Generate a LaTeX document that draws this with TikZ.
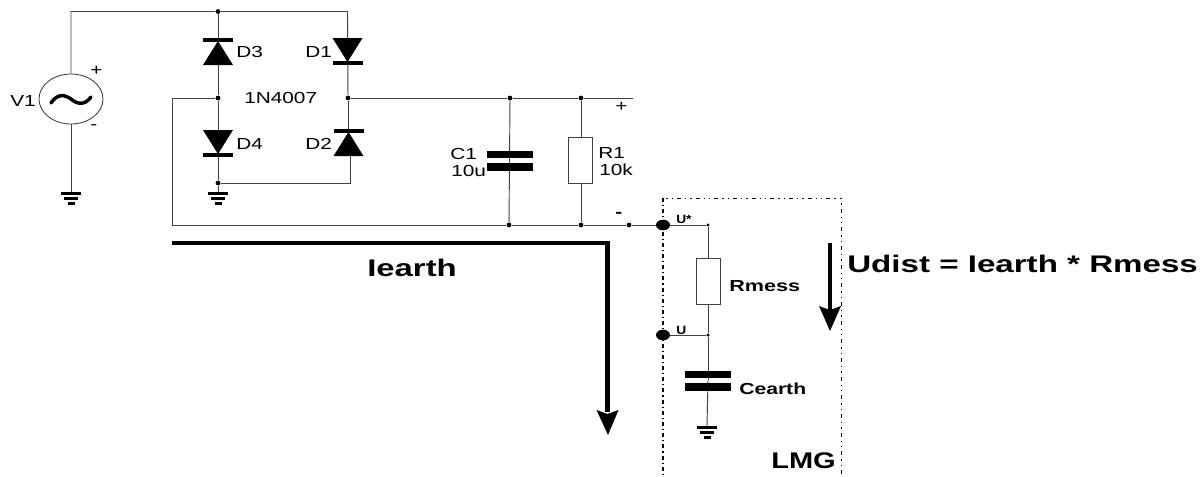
\documentclass[tikz,border=0pt]{standalone}
\usepackage{fontspec}
\setmainfont{Liberation Sans}
\newcommand\lbl[3]{\scalebox{#1}[1]{\fontsize{#2}{#2}\selectfont #3}}
\newcommand\diodedown[2]{% triangle points down, bar below
  \fill (#1-15,#2) -- (#1+15,#2) -- (#1,#2+24) -- cycle;
  \fill (#1-15,#2+23) rectangle (#1+15,#2+27);}
\newcommand\diodeup[2]{% bar above, triangle points up
  \fill (#1-15,#2) rectangle (#1+15,#2+4);
  \fill (#1,#2+3) -- (#1+15,#2+27) -- (#1-15,#2+27) -- cycle;}
\newcommand\plates[2]{%
  \fill (#1-23,#2) rectangle (#1+23,#2+7);
  \fill (#1-23,#2+12) rectangle (#1+23,#2+20);}
\newcommand\earth[2]{%
  \fill (#1-10,#2) rectangle (#1+10,#2+3.5);
  \fill (#1-7,#2+5) rectangle (#1+7,#2+8.5);
  \fill (#1-3.5,#2+10) rectangle (#1+3.5,#2+13);}
\tikzset{
  wire/.style={draw=black!75,line width=0.7pt},
  dotj/.style={circle,fill=black,inner sep=0pt,minimum size=3.6pt},
  smalldot/.style={circle,fill=black,inner sep=0pt,minimum size=2.6pt},
  probe/.style={ellipse,fill=black,inner sep=0pt,minimum width=10.5pt,minimum height=8pt},
  resbox/.style={rectangle,draw=black!75,fill=white,line width=0.6pt,inner sep=0pt,minimum width=18pt,minimum height=34.5pt},
  src/.style={ellipse,draw=black!80,fill=white,line width=0.6pt,inner sep=0pt,minimum width=48pt,minimum height=37.5pt},
  txt/.style={inner sep=0pt,anchor=west},
  bigarrow/.style={line width=3.3pt},
  border/.style={line width=0.6pt,dash pattern=on 1pt off 3pt on 1pt off 3pt on 3pt off 3pt},
}
\usetikzlibrary{shapes.geometric}
\begin{document}
\begin{tikzpicture}[x=0.75pt,y=-0.75pt]
\useasboundingbox (0,0) rectangle (1203,476);
% LMG box
\coordinate (bl) at (663,476); \coordinate (tl) at (663,198);
\coordinate (tr) at (841,198); \coordinate (br) at (841,476);
\draw[border] (tr) -- (tl);
\draw[border] (tr) -- (br);
\draw[line width=1.1pt,dash pattern=on 3pt off 2.2pt on 1pt off 2.2pt] (tl) -- (bl);
% nodes
\node[src] (v1) at (71,99) {};
\coordinate (tc) at (71,11.5);
\node[dotj] (top) at (218,11.5) {};
\coordinate (tr1) at (347.5,11.5);
\node[dotj] (a) at (218,98) {};
\node[dotj] (b) at (348,98) {};
\coordinate (lt) at (172,98);
\coordinate (lb) at (172,225);
\node[dotj] (g) at (218,183) {};
\coordinate (gr) at (350,183);
\coordinate (d2t) at (348,135);
\coordinate (d2b) at (350,150);
\node[dotj] (c1t) at (510,98) {};
\node[dotj] (r1t) at (581,98) {};
\coordinate (pl) at (633,98);
\node[dotj] (c1b) at (509,225) {};
\node[dotj] (r1b) at (581,225) {};
\node[dotj] (m) at (629,225) {};
\node[probe] (ust) at (663,225) {};
\node[smalldot] (t2) at (708,225) {};
\node[resbox] (r1) at (580.5,160) {};
\node[resbox] (rm) at (708,281) {};
\node[smalldot] (u2) at (708,335) {};
\node[probe] (u1) at (663,335) {};
\coordinate (ce) at (708,380);
\coordinate (ceg) at (707,426);
\coordinate (g1) at (71,192);
\coordinate (g2) at (218,192);
% wires
\draw[wire] (v1.north) -- (tc) -- (top) -- (tr1) -- (b);
\draw[wire] (top) -- (a) -- (g) -- (g2);
\draw[wire] (a) -- (lt) -- (lb) -- (c1b) -- (r1b) -- (m) -- (ust) -- (t2) -- (u2) -- (ce);
\draw[wire] (b) -- (c1t) -- (r1t) -- (pl);
\draw[wire] (b) -- (d2t);
\draw[wire] (g) -- (gr) -- (d2b);
\draw[wire] (c1t) -- (c1b);
\draw[wire] (r1t) -- (r1b);
\draw[wire] (u1) -- (u2);
\draw[wire] (ce) -- (ceg);
\draw[wire] (v1.south) -- (g1);
\node[resbox] at (r1) {};
\node[resbox] at (rm) {};
% components
\diodeup{218}{38}
\diodedown{347.5}{38}
\diodedown{218}{130}
\diodeup{348.5}{129}
\plates{509.5}{151}
\plates{707.5}{371}
\earth{71}{191.5}
\earth{218}{191.5}
\earth{707}{425.5}
% sine
\draw[line width=2.6pt,line cap=round] (51,103) .. controls (57,94) and (64,94) .. (71,99) .. controls (78,105) and (85,105) .. (91,97);
% thick arrows
\coordinate (is) at (172,243); \coordinate (ic) at (607.5,243); \coordinate (ie) at (607.5,412);
\draw[bigarrow] (is) -- (ic) -- (ie);
\fill (596.5,410) -- (607.5,414) -- (618.5,410) -- (608,435) -- cycle;
\coordinate (us) at (830,243); \coordinate (ue) at (830,310);
\draw[bigarrow] (us) -- (ue);
\fill (819,306) -- (830,310) -- (841,306) -- (830,331) -- cycle;
% labels
\node[txt] (tv1) at (10,101) {\lbl{1.3}{12}{V1}};
\node[txt] (tp1) at (90,71) {\lbl{1.3}{12}{+}};
\node[txt] (tm1) at (90,127) {\lbl{1.3}{12}{-}};
\node[txt] (td3) at (236,52) {\lbl{1.3}{12}{D3}};
\node[txt] (td1) at (305,52) {\lbl{1.3}{12}{D1}};
\node[txt] (td4) at (236,144) {\lbl{1.3}{12}{D4}};
\node[txt] (td2) at (305,144) {\lbl{1.3}{12}{D2}};
\node[txt] (tn) at (244,98) {\lbl{1.3}{12}{1N4007}};
\node[txt] (tp2) at (615,107) {\lbl{1.3}{12}{+}};
\node[txt] (tm2) at (615,215) {\bfseries\lbl{1.3}{12}{-}};
\node[txt] (tc1) at (450,154) {\lbl{1.3}{12}{C1}};
\node[txt] (tc2) at (451,171) {\lbl{1.3}{12}{10u}};
\node[txt] (tr2) at (598,153) {\lbl{1.3}{12}{R1}};
\node[txt] (tr3) at (599,170) {\lbl{1.3}{12}{10k}};
\node[txt] (tus) at (676,219.5) {\bfseries\lbl{1.15}{9}{U*}};
\node[txt] (tu) at (676,330) {\bfseries\lbl{1.15}{9}{U}};
\node[txt] (trm) at (729,286) {\bfseries\lbl{1.35}{12}{Rmess}};
\node[txt] (tce) at (739,389) {\bfseries\lbl{1.32}{12}{Cearth}};
\node[txt] (tl2) at (771,461) {\bfseries\lbl{1.28}{17}{LMG}};
\node[txt] (tie) at (367,268) {\bfseries\lbl{1.37}{18}{Iearth}};
\node[txt] (tud) at (847,264) {\bfseries\lbl{1.38}{18}{Udist = Iearth * Rmess}};
\end{tikzpicture}
\end{document}
